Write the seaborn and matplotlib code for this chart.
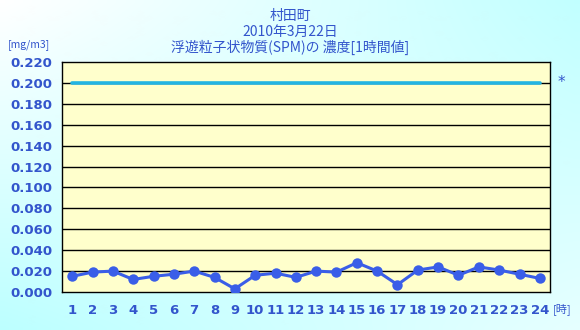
import numpy as np
import pandas as pd
import matplotlib
matplotlib.use("Agg")
import matplotlib.pyplot as plt
import seaborn as sns

hours = list(range(1, 25))
spm = [0.015, 0.019, 0.020, 0.012, 0.015, 0.017, 0.020, 0.014, 0.003, 0.016,
       0.018, 0.014, 0.020, 0.019, 0.028, 0.020, 0.007, 0.021, 0.024, 0.016,
       0.024, 0.021, 0.017, 0.013]
standard = 0.200
yticks = [0.000, 0.020, 0.040, 0.060, 0.080, 0.100, 0.120, 0.140, 0.160,
          0.180, 0.200, 0.220]
title_lines = ["村田町", "2010年3月22日", "浮遊粒子状物質(SPM)の 濃度[1時間値]"]

sns.set_theme(style="white")
plt.rcParams['font.family'] = ['Noto Sans CJK JP', 'DejaVu Sans']

blue_txt = "#3355cc"
line_col = "#3a5ee8"

fig = plt.figure(figsize=(5.8, 3.3), dpi=100)

# background gradient
bg = fig.add_axes([0, 0, 1, 1], zorder=-10)
bg.set_axis_off()
n = 64
u = np.linspace(0, 1, n)[None, :]
v = np.linspace(0, 1, n)[:, None]
tl = np.array([1.0, 1.0, 1.0])
tr = np.array([0.76, 1.0, 1.0])
bl = np.array([0.74, 1.0, 1.0])
br = np.array([0.90, 1.0, 1.0])
img = ((1 - u) * (1 - v))[..., None] * tl + (u * (1 - v))[..., None] * tr + \
      ((1 - u) * v)[..., None] * bl + (u * v)[..., None] * br
bg.imshow(img, aspect='auto', extent=[0, 1, 0, 1], interpolation='bilinear')
bg.set_xlim(0, 1); bg.set_ylim(0, 1)

ax = fig.add_axes([62/580, 1 - 292/330, 488/580, 230/330])
ax.set_facecolor("#ffffcc")

df = pd.DataFrame({"hour": hours, "spm": spm,
                   "std": [standard] * len(hours)})
sns.lineplot(data=df, x="hour", y="std", ax=ax, color="#22b4e2", lw=2.6,
             zorder=3)
sns.lineplot(data=df, x="hour", y="spm", ax=ax, color=line_col, lw=2.2,
             marker="o", markersize=7.5, markeredgewidth=0, zorder=4)

ax.set_xlim(0.5, 24.5)
ax.set_ylim(0, 0.22)
ax.set_yticks(yticks)
ax.set_yticklabels([f"{t:.3f}" for t in yticks], color=blue_txt,
                   fontsize=9.5, fontweight='bold', family=['DejaVu Sans'])
ax.set_xticks(hours)
ax.set_xticklabels([str(h) for h in hours], color=blue_txt, fontsize=9.5,
                   fontweight='bold', family=['DejaVu Sans'])
ax.set_xticks([h + 0.5 for h in hours[:-1]], minor=True)
ax.tick_params(axis='x', which='major', length=0, pad=9)
ax.tick_params(axis='x', which='minor', length=4, direction='in', color='black', width=1)
ax.tick_params(axis='y', length=0, pad=7)
for t in yticks[1:-1]:
    ax.axhline(t, color='black', lw=1, zorder=1)
for s in ax.spines.values():
    s.set_color('black')
    s.set_linewidth(1)
ax.set_xlabel("")
ax.set_ylabel("")
ax.grid(False)

# annotations
ax.text(24.85, standard, "*", color=blue_txt, fontsize=11, va='center', ha='left',
        clip_on=False, family=['DejaVu Sans'])
fig.text(8/580, 1 - 45/330, "[mg/m3]", color=blue_txt, fontsize=7.5, va='center', ha='left')
fig.text(553/580, 1 - 309/330, "[時]", color=blue_txt, fontsize=8, va='center', ha='left')

ys = [16, 32, 47]
for t, y in zip(title_lines, ys):
    fig.text(0.5, 1 - y/330, t, color=blue_txt, fontsize=10, ha='center', va='center')

fig.savefig("out.png", dpi=100)
